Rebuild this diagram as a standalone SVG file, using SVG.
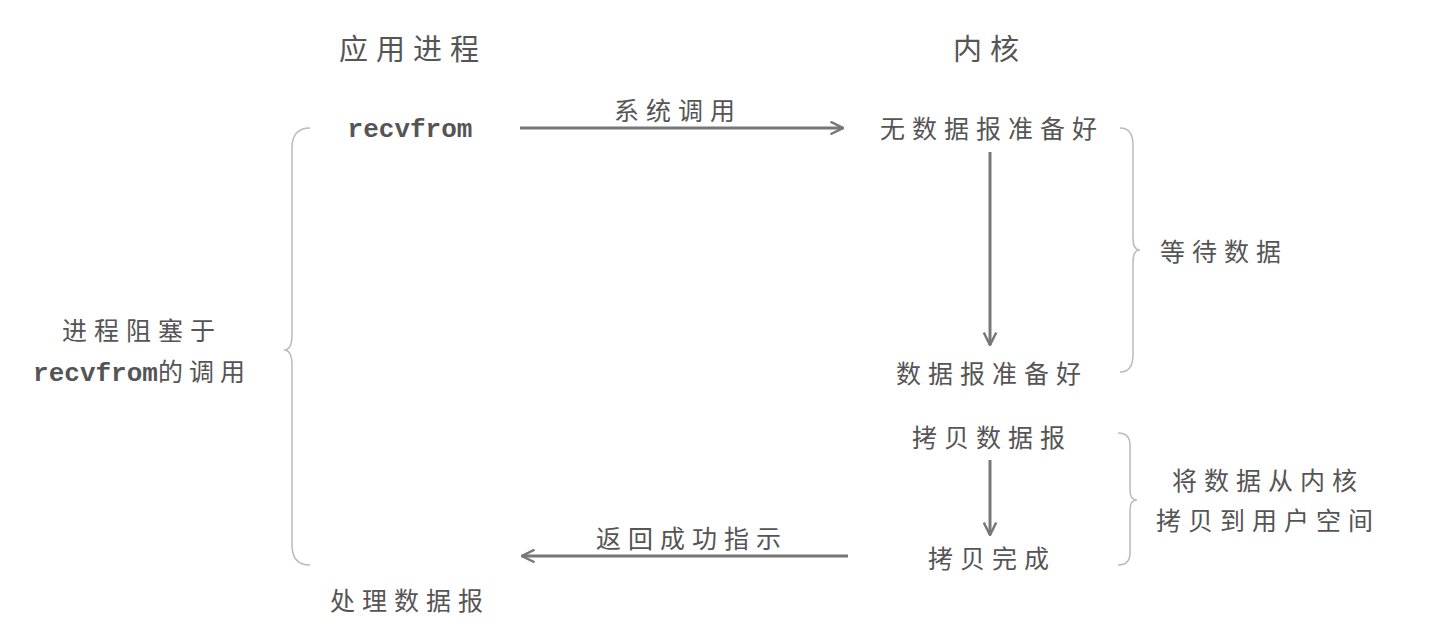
<svg xmlns="http://www.w3.org/2000/svg" width="1454" height="642" viewBox="0 0 1454 642">
<style>
text{font-family:"Noto Sans CJK SC","Liberation Sans",sans-serif;fill:#555;font-size:25px;letter-spacing:7px;text-anchor:middle}
.h{font-size:29px;letter-spacing:8px}
.m{font-family:"Liberation Mono","Noto Sans CJK SC",monospace;font-weight:bold;letter-spacing:0;font-size:26px}
.a{stroke:#777;stroke-width:3;fill:none;marker-end:url(#ah)}
.b{stroke:#bbb;stroke-width:1.5;fill:none}
</style>
<defs><marker id="ah" viewBox="0 0 12 12" refX="11" refY="6" markerWidth="5" markerHeight="5" orient="auto" markerUnits="strokeWidth"><path d="M1,1 L11,6 L1,11" fill="none" stroke="#777" stroke-width="2"/></marker></defs>
<g id="connectors">
<path class="a" d="M520,128 H843"/>
<path class="a" d="M990,152 V345"/>
<path class="a" d="M990,460 V535"/>
<path class="a" d="M848,556 H522"/>
<path class="b" d="M1120,128 Q1133,128 1133,145 V238 Q1133,250 1140,250 Q1133,250 1133,262 V355 Q1133,372 1120,372"/>
<path class="b" d="M1118,433 Q1130,433 1130,445 V490 Q1130,500 1137,500 Q1130,500 1130,510 V553 Q1130,565 1118,565"/>
<path class="b" d="M310,128 Q292,128 292,148 V335 Q292,350 284,350 Q292,350 292,365 V545 Q292,565 310,565"/>
</g>
<g id="n-app"><text class="h" x="413" y="60">应用进程</text></g>
<g id="n-kernel"><text class="h" x="990" y="60">内核</text></g>
<g id="n-recv"><text class="m" x="410" y="137">recvfrom</text></g>
<g id="l-sys"><text x="678" y="120">系统调用</text></g>
<g id="n-nodata"><text x="992" y="138">无数据报准备好</text></g>
<g id="n-ready"><text x="992" y="383">数据报准备好</text></g>
<g id="l-wait"><text x="1224" y="261">等待数据</text></g>
<g id="n-copy"><text x="992" y="447">拷贝数据报</text></g>
<g id="n-done"><text x="992" y="568">拷贝完成</text></g>
<g id="l-copy"><text x="1268" y="490">将数据从内核</text><text x="1268" y="530">拷贝到用户空间</text></g>
<g id="l-ret"><text x="692" y="548">返回成功指示</text></g>
<g id="n-proc"><text x="410" y="610">处理数据报</text></g>
<g id="l-block"><text x="142" y="340">进程阻塞于</text><text x="142" y="381" style="letter-spacing:0"><tspan class="m">recvfrom</tspan><tspan style="letter-spacing:6px">的调用</tspan></text></g>
</svg>
